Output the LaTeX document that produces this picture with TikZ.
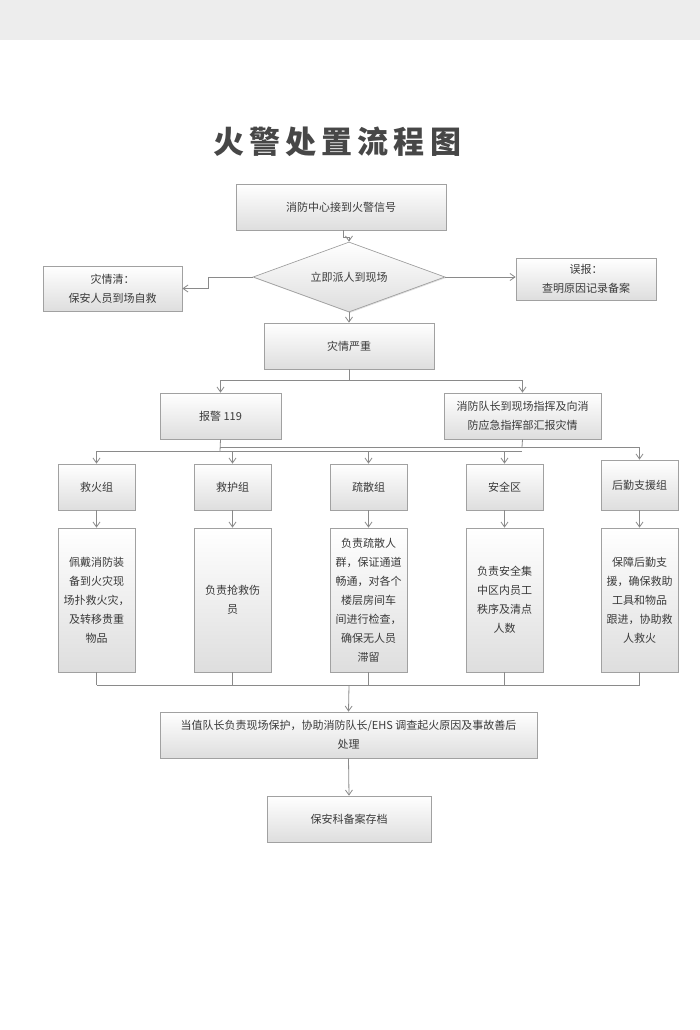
\documentclass[tikz,border=0pt]{standalone}
\usepackage{fontspec}
\setmainfont{Noto Sans CJK SC}
\usetikzlibrary{arrows.meta,shapes.geometric,shadows}
\definecolor{ln}{HTML}{8A8A8A}
\definecolor{tx}{HTML}{3A3A3A}
\begin{document}
\begin{tikzpicture}[x=1pt,y=-1pt,
 bx/.style={draw=ln!80,line width=0.7pt,top color=white,bottom color=black!13,
   drop shadow={shadow xshift=1pt,shadow yshift=-1pt,opacity=0.25},
   font=\fontsize{11}{19}\selectfont,text=tx,align=center,inner sep=0pt},
 con/.style={draw=ln,line width=0.8pt},
 arr/.style={con,-{Straight Barb[length=5pt,width=7pt]}}]
\useasboundingbox (0,0) rectangle (700,1030);
\fill[black!7] (0,0) rectangle (700,40);
\node[font=\fontsize{31}{34}\selectfont\bfseries,text=black!72] (title) at (337,142) {火\,警\,处\,置\,流\,程\,图};
\newcommand{\bxx}[6]{\node[bx,minimum width=#3-#2,minimum height=#5-#4] (#1) at ({(#2+#3)/2},{(#4+#5)/2}) {#6};}
\bxx{a}{236}{446}{184}{230}{消防中心接到火警信号}
\node[bx,diamond,aspect=2.75,minimum width=192,minimum height=70,inner sep=0pt] (d) at (349,277) {立即派人到现场};
\bxx{l}{43}{182}{266}{311}{灾情清：\\保安人员到场自救}
\bxx{r}{516}{656}{258}{300}{误报：\\查明原因记录备案}
\bxx{s}{264}{434}{323}{369}{灾情严重}
\bxx{b1}{160}{281}{393}{439}{报警 119}
\bxx{b2}{444}{601}{393}{439}{消防队长到现场指挥及向消\\防应急指挥部汇报灾情}
\bxx{g1}{58}{135}{464}{510}{救火组}
\bxx{g2}{194}{271}{464}{510}{救护组}
\bxx{g3}{330}{407}{464}{510}{疏散组}
\bxx{g4}{466}{543}{464}{510}{安全区}
\bxx{g5}{601}{678}{460}{510}{后勤支援组}
\bxx{h1}{58}{135}{528}{672}{佩戴消防装\\备到火灾现\\场扑救火灾，\\及转移贵重\\物品}
\bxx{h2}{194}{271}{528}{672}{负责抢救伤\\员}
\bxx{h3}{330}{407}{528}{672}{负责疏散人\\群，保证通道\\畅通，对各个\\楼层房间车\\间进行检查，\\确保无人员\\滞留}
\bxx{h4}{466}{543}{528}{672}{负责安全集\\中区内员工\\秩序及清点\\人数}
\bxx{h5}{601}{678}{528}{672}{保障后勤支\\援，确保救助\\工具和物品\\跟进，协助救\\人救火}
\bxx{w}{160}{537}{712}{758}{当值队长负责现场保护，协助消防队长/EHS 调查起火原因及事故善后\\处理}
\bxx{f}{267}{431}{796}{842}{保安科备案存档}
% connectors
\draw[arr] (a.south -| 343,0) |- (349,237) -- (d.north);
\draw[arr] (d.west) -- (208,277) |- (l.east);
\draw[arr] (d.east) -- (r.west |- d.east);
\draw[arr] (d.south) -- (s.north);
\coordinate (j1) at (349,380);
\draw[con] (s.south) -- (j1);
\draw[arr] (j1) -| (b1.north);
\draw[arr] (j1) -| (b2.north);
\coordinate (j2) at (220,447);
\coordinate (j3) at (522,451);
\draw[con] (b1.south) -- (220,451);
\draw[con] (b2.south) -- (522,447);
\draw[arr] (j2) -| (g5.north);
\draw[arr] (j3) -| (g1.north);
\draw[arr] (g2.north |- j3) -- (g2.north);
\draw[arr] (g3.north |- j3) -- (g3.north);
\draw[arr] (g4.north |- j3) -- (g4.north);
\foreach \i in {1,...,5}{\draw[arr] (g\i.south) -- (h\i.north);}
\coordinate (j4) at (349,685);
\foreach \i in {1,...,5}{\draw[con] (h\i.south) -- (h\i.south |- j4);}
\draw[con] (h1.south |- j4) -- (h5.south |- j4);
\draw[arr] (j4) -- (w.north);
\draw[arr] (w.south) -- (f.north);
\end{tikzpicture}
\end{document}
